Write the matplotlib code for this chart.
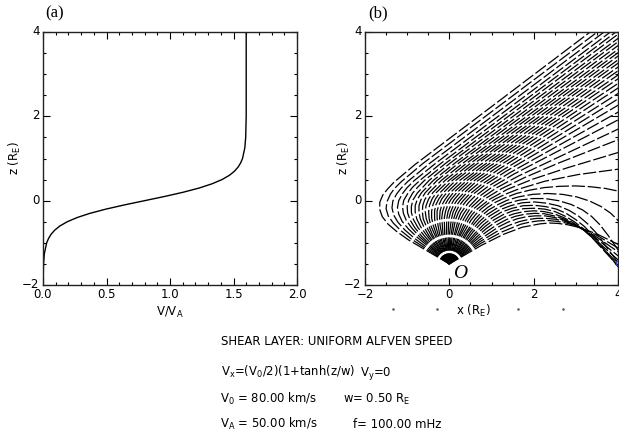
# Imports
import matplotlib
matplotlib.use('Agg')
import matplotlib.pyplot as plt
from matplotlib.ticker import MultipleLocator
import matplotlib.transforms as mtransforms

plt.rcParams['mathtext.default'] = 'regular'
plt.rcParams['lines.scale_dashes'] = False
plt.rcParams['font.family'] = 'DejaVu Sans'

# Panel (a): flow profile V/VA against z
z_prof = [-2.0, -1.5, -1.25, -1.0, -0.9, -0.8, -0.7, -0.6, -0.5, -0.4, -0.3, -0.2, -0.1,
          0.0, 0.1, 0.2, 0.3, 0.4, 0.5, 0.6, 0.7, 0.8, 0.9, 1.0, 1.25, 1.5, 2.0, 3.0, 4.0]
v_prof = [0.0005, 0.004, 0.011, 0.029, 0.043, 0.063, 0.092, 0.133, 0.191, 0.269, 0.370, 0.496, 0.642,
          0.800, 0.958, 1.104, 1.230, 1.331, 1.409, 1.467, 1.508, 1.537, 1.557, 1.571, 1.589, 1.596, 1.600, 1.600, 1.600]

# Panel (b): ray paths from the source O, one per launch angle (deg); x and z in R_E
launch_deg = [31, 34, 37, 40, 43, 46, 49, 52, 55, 58, 61, 64, 67, 70, 73, 76, 79, 82, 85, 88,
              91, 94, 97, 100, 103, 106, 109, 112, 115, 118, 121, 124, 127, 130, 133, 136, 139, 142, 145, 148, 151]

ray_x = [
    [0, .76, 1.28, 1.73, 2.15, 2.37, 2.58, 2.80, 3.02, 3.48, 4.03],
    [0, .75, 1.25, 1.69, 1.90, 2.11, 2.33, 2.55, 2.77, 2.99, 3.46, 4.03],
    [0, .73, 1.21, 1.43, 1.65, 1.86, 2.07, 2.29, 2.52, 2.74, 2.96, 3.18, 3.43, 4.03],
    [0, .71, 1.17, 1.39, 1.61, 1.83, 2.04, 2.27, 2.50, 2.72, 2.94, 3.16, 3.40, 4.03],
    [0, .68, .92, 1.13, 1.35, 1.57, 1.80, 2.02, 2.25, 2.48, 2.71, 2.93, 3.15, 3.38, 4.03],
    [0, .66, .88, 1.09, 1.31, 1.54, 1.77, 2.01, 2.25, 2.48, 2.71, 2.93, 3.14, 3.37, 4.03],
    [0, .63, .85, 1.05, 1.28, 1.51, 1.76, 2.01, 2.26, 2.51, 2.73, 2.95, 3.16, 3.37, 4.03],
    [0, .60, .81, 1.01, 1.24, 1.49, 1.75, 2.02, 2.28, 2.54, 2.77, 3.00, 3.20, 3.41, 4.03],
    [0, .56, .76, .96, 1.19, 1.45, 1.73, 2.02, 2.31, 2.58, 2.84, 3.07, 3.27, 3.47, 4.03],
    [0, .51, .70, .88, 1.11, 1.36, 1.65, 1.95, 2.27, 2.59, 2.89, 3.16, 3.37, 3.57, 3.77, 4.03],
    [0, .43, .59, .74, .93, 1.14, 1.37, 1.64, 1.98, 2.33, 2.68, 3.02, 3.33, 3.60, 3.83, 4.03],
    [0, .36, .61, .75, .91, 1.09, 1.30, 1.59, 1.91, 2.25, 2.61, 2.99, 3.35, 3.70, 4.04],
    [0, .30, .51, .63, .76, .91, 1.09, 1.32, 1.60, 2.26, 3.06, 4.03],
    [0, .25, .44, .54, .66, .95, 1.38, 1.98, 2.80, 4.03],
    [0, .22, .38, .47, .57, .84, 1.23, 1.79, 2.61, 4.04],
    [0, .18, .32, .40, .49, .75, 1.11, 1.65, 4.03],
    [0, .14, .26, .34, .43, .67, 1.01, 1.53, 4.03],
    [0, .11, .21, .27, .36, .46, .59, .92, 1.43, 4.04],
    [0, .07, .15, .21, .29, .39, .51, .84, 1.35, 4.03],
    [0, .04, .10, .15, .22, .32, .44, .76, 1.26, 4.03],
    [0, 0, .05, .09, .16, .25, .37, .68, 1.18, 4.03],
    [0, -.03, -.01, .03, .09, .18, .30, .60, 1.10, 4.03],
    [0, -.07, -.06, -.03, .03, .11, .23, .53, 1.02, 4.03],
    [0, -.11, -.12, -.09, -.04, .04, .15, .45, .95, 4.03],
    [0, -.15, -.18, -.16, -.11, -.03, .08, .37, .87, 4.03],
    [0, -.18, -.22, -.23, -.22, -.18, -.10, .01, .30, .80, 4.03],
    [0, -.23, -.27, -.29, -.29, -.25, -.18, -.07, .22, .72, 4.03],
    [0, -.27, -.33, -.35, -.35, -.32, -.25, -.15, .14, .64, 4.03],
    [0, -.31, -.38, -.42, -.42, -.39, -.33, -.23, .06, .56, 4.03],
    [0, -.35, -.44, -.48, -.49, -.47, -.41, -.31, -.02, .48, 4.03],
    [0, -.40, -.49, -.55, -.57, -.55, -.49, -.39, -.10, .40, 4.03],
    [0, -.44, -.55, -.62, -.64, -.63, -.58, -.48, -.19, .31, 4.03],
    [0, -.49, -.61, -.69, -.72, -.72, -.67, -.57, -.29, .22, 4.03],
    [0, -.54, -.68, -.77, -.81, -.81, -.76, -.66, -.38, .13, 4.03],
    [0, -.59, -.75, -.85, -.90, -.90, -.86, -.76, -.48, .03, 4.03],
    [0, -.65, -.82, -.93, -.99, -1.00, -.96, -.87, -.75, -.59, -.07, 4.03],
    [0, -.70, -.89, -1.02, -1.09, -1.11, -1.08, -.98, -.87, -.70, -.18, 3.99],
    [0, -.76, -.97, -1.12, -1.20, -1.23, -1.20, -1.11, -1.00, -.84, -.32, 3.86],
    [0, -.83, -1.06, -1.22, -1.32, -1.36, -1.34, -1.25, -1.14, -.98, -.46, 3.71],
    [0, -.90, -1.15, -1.33, -1.45, -1.50, -1.48, -1.40, -1.30, -1.14, -.63, 3.55],
    [0, -.97, -1.25, -1.45, -1.59, -1.65, -1.65, -1.58, -1.47, -1.32, -.81, 3.38],
]

ray_z = [
    [-1.5, -1.06, -.80, -.63, -.55, -.53, -.54, -.57, -.62, -.78, -1.05],
    [-1.5, -1.01, -.74, -.56, -.51, -.48, -.47, -.49, -.53, -.59, -.80, -1.14],
    [-1.5, -.97, -.68, -.58, -.50, -.45, -.42, -.42, -.44, -.49, -.57, -.68, -.82, -1.23],
    [-1.5, -.93, -.62, -.51, -.43, -.38, -.36, -.36, -.40, -.46, -.56, -.68, -.83, -1.33],
    [-1.5, -.89, -.71, -.57, -.45, -.37, -.32, -.30, -.31, -.36, -.43, -.54, -.67, -.85, -1.43],
    [-1.5, -.85, -.66, -.51, -.39, -.31, -.26, -.24, -.26, -.31, -.40, -.52, -.66, -.86, -1.52],
    [-1.5, -.81, -.61, -.46, -.33, -.24, -.19, -.18, -.20, -.26, -.36, -.49, -.65, -.86, -1.58],
    [-1.5, -.78, -.57, -.41, -.27, -.18, -.12, -.11, -.14, -.20, -.30, -.45, -.61, -.83, -1.60],
    [-1.5, -.74, -.53, -.36, -.22, -.12, -.05, -.03, -.06, -.12, -.23, -.37, -.54, -.75, -1.51],
    [-1.5, -.73, -.51, -.34, -.19, -.07, .01, .05, .05, 0, -.09, -.22, -.37, -.57, -.83, -1.21],
    [-1.5, -.76, -.55, -.38, -.22, -.10, .01, .09, .15, .17, .15, .09, -.01, -.14, -.30, -.50],
    [-1.5, -.81, -.44, -.29, -.16, -.04, .06, .17, .25, .31, .34, .35, .33, .29, .22],
    [-1.5, -.83, -.47, -.32, -.19, -.07, .04, .15, .26, .46, .62, .75],
    [-1.5, -.84, -.48, -.33, -.20, .03, .27, .51, .78, 1.15],
    [-1.5, -.84, -.48, -.33, -.20, .04, .28, .55, .90, 1.46],
    [-1.5, -.84, -.47, -.33, -.19, .05, .30, .59, 1.71],
    [-1.5, -.83, -.46, -.31, -.18, .07, .32, .63, 1.93],
    [-1.5, -.83, -.45, -.30, -.17, -.04, .09, .34, .66, 2.12],
    [-1.5, -.82, -.44, -.29, -.15, -.02, .11, .37, .70, 2.28],
    [-1.5, -.81, -.44, -.28, -.14, -.01, .12, .38, .72, 2.43],
    [-1.5, -.81, -.43, -.27, -.13, 0, .14, .40, .75, 2.56],
    [-1.5, -.80, -.42, -.27, -.13, .01, .14, .42, .77, 2.69],
    [-1.5, -.80, -.42, -.26, -.12, .02, .16, .43, .79, 2.80],
    [-1.5, -.79, -.41, -.25, -.11, .03, .16, .44, .81, 2.91],
    [-1.5, -.79, -.41, -.26, -.11, .03, .17, .44, .82, 3.00],
    [-1.5, -.80, -.58, -.41, -.25, -.11, .03, .18, .45, .83, 3.10],
    [-1.5, -.79, -.58, -.41, -.25, -.11, .04, .18, .46, .84, 3.19],
    [-1.5, -.79, -.58, -.41, -.25, -.10, .04, .18, .47, .86, 3.28],
    [-1.5, -.80, -.59, -.41, -.25, -.10, .04, .18, .47, .86, 3.36],
    [-1.5, -.80, -.59, -.42, -.25, -.11, .04, .19, .47, .87, 3.45],
    [-1.5, -.81, -.59, -.42, -.26, -.11, .04, .19, .48, .88, 3.53],
    [-1.5, -.81, -.60, -.43, -.26, -.11, .03, .19, .48, .88, 3.61],
    [-1.5, -.82, -.61, -.43, -.27, -.12, .03, .19, .48, .89, 3.70],
    [-1.5, -.82, -.62, -.44, -.27, -.12, .03, .19, .48, .89, 3.79],
    [-1.5, -.84, -.63, -.45, -.28, -.13, .02, .18, .48, .90, 3.87],
    [-1.5, -.85, -.64, -.46, -.29, -.14, .02, .18, .32, .48, .90, 3.97],
    [-1.5, -.86, -.65, -.47, -.30, -.14, .01, .18, .32, .48, .90, 4.03],
    [-1.5, -.87, -.67, -.49, -.32, -.16, 0, .17, .31, .47, .89, 4.03],
    [-1.5, -.89, -.69, -.51, -.34, -.17, -.01, .16, .30, .46, .89, 4.03],
    [-1.5, -.91, -.71, -.53, -.36, -.19, -.03, .15, .29, .45, .88, 4.03],
    [-1.5, -.93, -.73, -.56, -.38, -.21, -.04, .13, .27, .43, .86, 4.03],
]

# Small marker on the right edge and the stray dots beside the x label of panel (b)
focus_x = [4.0]
focus_z = [-1.48]
dot_x = [-1.34, -0.29, 1.63, 2.70]
dot_z = [-2.57, -2.57, -2.57, -2.57]

# Text block under the panels
info_lines = [
    ('SHEAR LAYER: UNIFORM ALFVEN SPEED', None),
    ('V$_x$=(V$_0$/2)(1+tanh(z/w)', 'V$_y$=0'),
    ('V$_0$ = 80.00 km/s', 'w= 0.50 R$_E$'),
    ('V$_A$ = 50.00 km/s', 'f= 100.00 mHz'),
]

# Figure with the two panels placed as in the original
fig = plt.figure(figsize=(6.19, 4.34), dpi=100)
ax1 = fig.add_axes([43 / 619, 149 / 434, 254 / 619, 253 / 434])
ax2 = fig.add_axes([365 / 619, 149 / 434, 253 / 619, 253 / 434])

# Panel (a)
ax1.plot(v_prof, z_prof, color='k', lw=1)
ax1.set_xlim(0, 2)
ax1.set_ylim(-2, 4)
ax1.xaxis.set_major_locator(MultipleLocator(0.5))
ax1.xaxis.set_minor_locator(MultipleLocator(0.1))
ax1.xaxis.set_major_formatter(plt.FormatStrFormatter('%.1f'))

# Panel (b): long dashes, all starting at the source so the gaps line up
for rx, rz in zip(ray_x, ray_z):
    ax2.plot(rx, rz, color='k', lw=0.9, linestyle=(1.9, (9.5, 2.0)))
ax2.plot(focus_x, focus_z, linestyle='none', marker='s', ms=3, mfc='none',
         mec='#3040c0', mew=0.8, clip_on=False)
ax2.plot(dot_x, dot_z, linestyle='none', marker='.', ms=1.6, color='#555555', clip_on=False)
ax2.set_xlim(-2, 4)
ax2.set_ylim(-2, 4)
ax2.xaxis.set_major_locator(MultipleLocator(2))
ax2.xaxis.set_minor_locator(MultipleLocator(0.5))
ax2.text(0.25, -1.72, 'O', family='Liberation Serif', style='italic', fontsize=14,
         ha='center', va='center')

# Box style ticks on both panels
up = mtransforms.ScaledTranslation(0, 2 / 100, fig.dpi_scale_trans)
for ax in (ax1, ax2):
    ax.yaxis.set_major_locator(MultipleLocator(2))
    ax.yaxis.set_minor_locator(MultipleLocator(0.5))
    ax.tick_params(which='both', direction='in', top=True, right=True, width=0.8,
                   labelsize=8.5, pad=2.5)
    ax.tick_params(which='major', length=5)
    ax.tick_params(which='minor', length=2.5)
    for s in ax.spines.values():
        s.set_linewidth(1.0)
        s.set_color('#222222')
    for lab in ax.get_yticklabels():
        lab.set_transform(lab.get_transform() + up)

ax1.set_xlabel('V/V$_A$', fontsize=8.5)
ax1.set_ylabel('z (R$_E$)', fontsize=8.5)
ax1.xaxis.set_label_coords(0.5, -0.08)
ax1.yaxis.set_label_coords(-0.08, 0.5)
ax2.set_xlabel('x (R$_E$)', fontsize=8.5)
ax2.set_ylabel('z (R$_E$)', fontsize=8.5)
ax2.xaxis.set_label_coords(0.427, -0.07)
ax2.yaxis.set_label_coords(-0.052, 0.5)

# Panel letters
fig.text(45 / 619, 1 - 13 / 434, '(a)', family='Liberation Serif', fontsize=12, va='center')
fig.text(368 / 619, 1 - 13 / 434, '(b)', family='Liberation Serif', fontsize=12, va='center')

# Parameter text, line by line
baselines = [345, 376, 403, 428]
left_x = [221, 221, 220, 220]
right_x = [None, 360, 343, 353]
for (left, right), yb, xl, xr in zip(info_lines, baselines, left_x, right_x):
    fig.text(xl / 619, 1 - yb / 434, left, fontsize=8.4, va='baseline')
    if right is not None:
        fig.text(xr / 619, 1 - yb / 434, right, fontsize=8.4, va='baseline')

fig.savefig('out.png', dpi=100)
